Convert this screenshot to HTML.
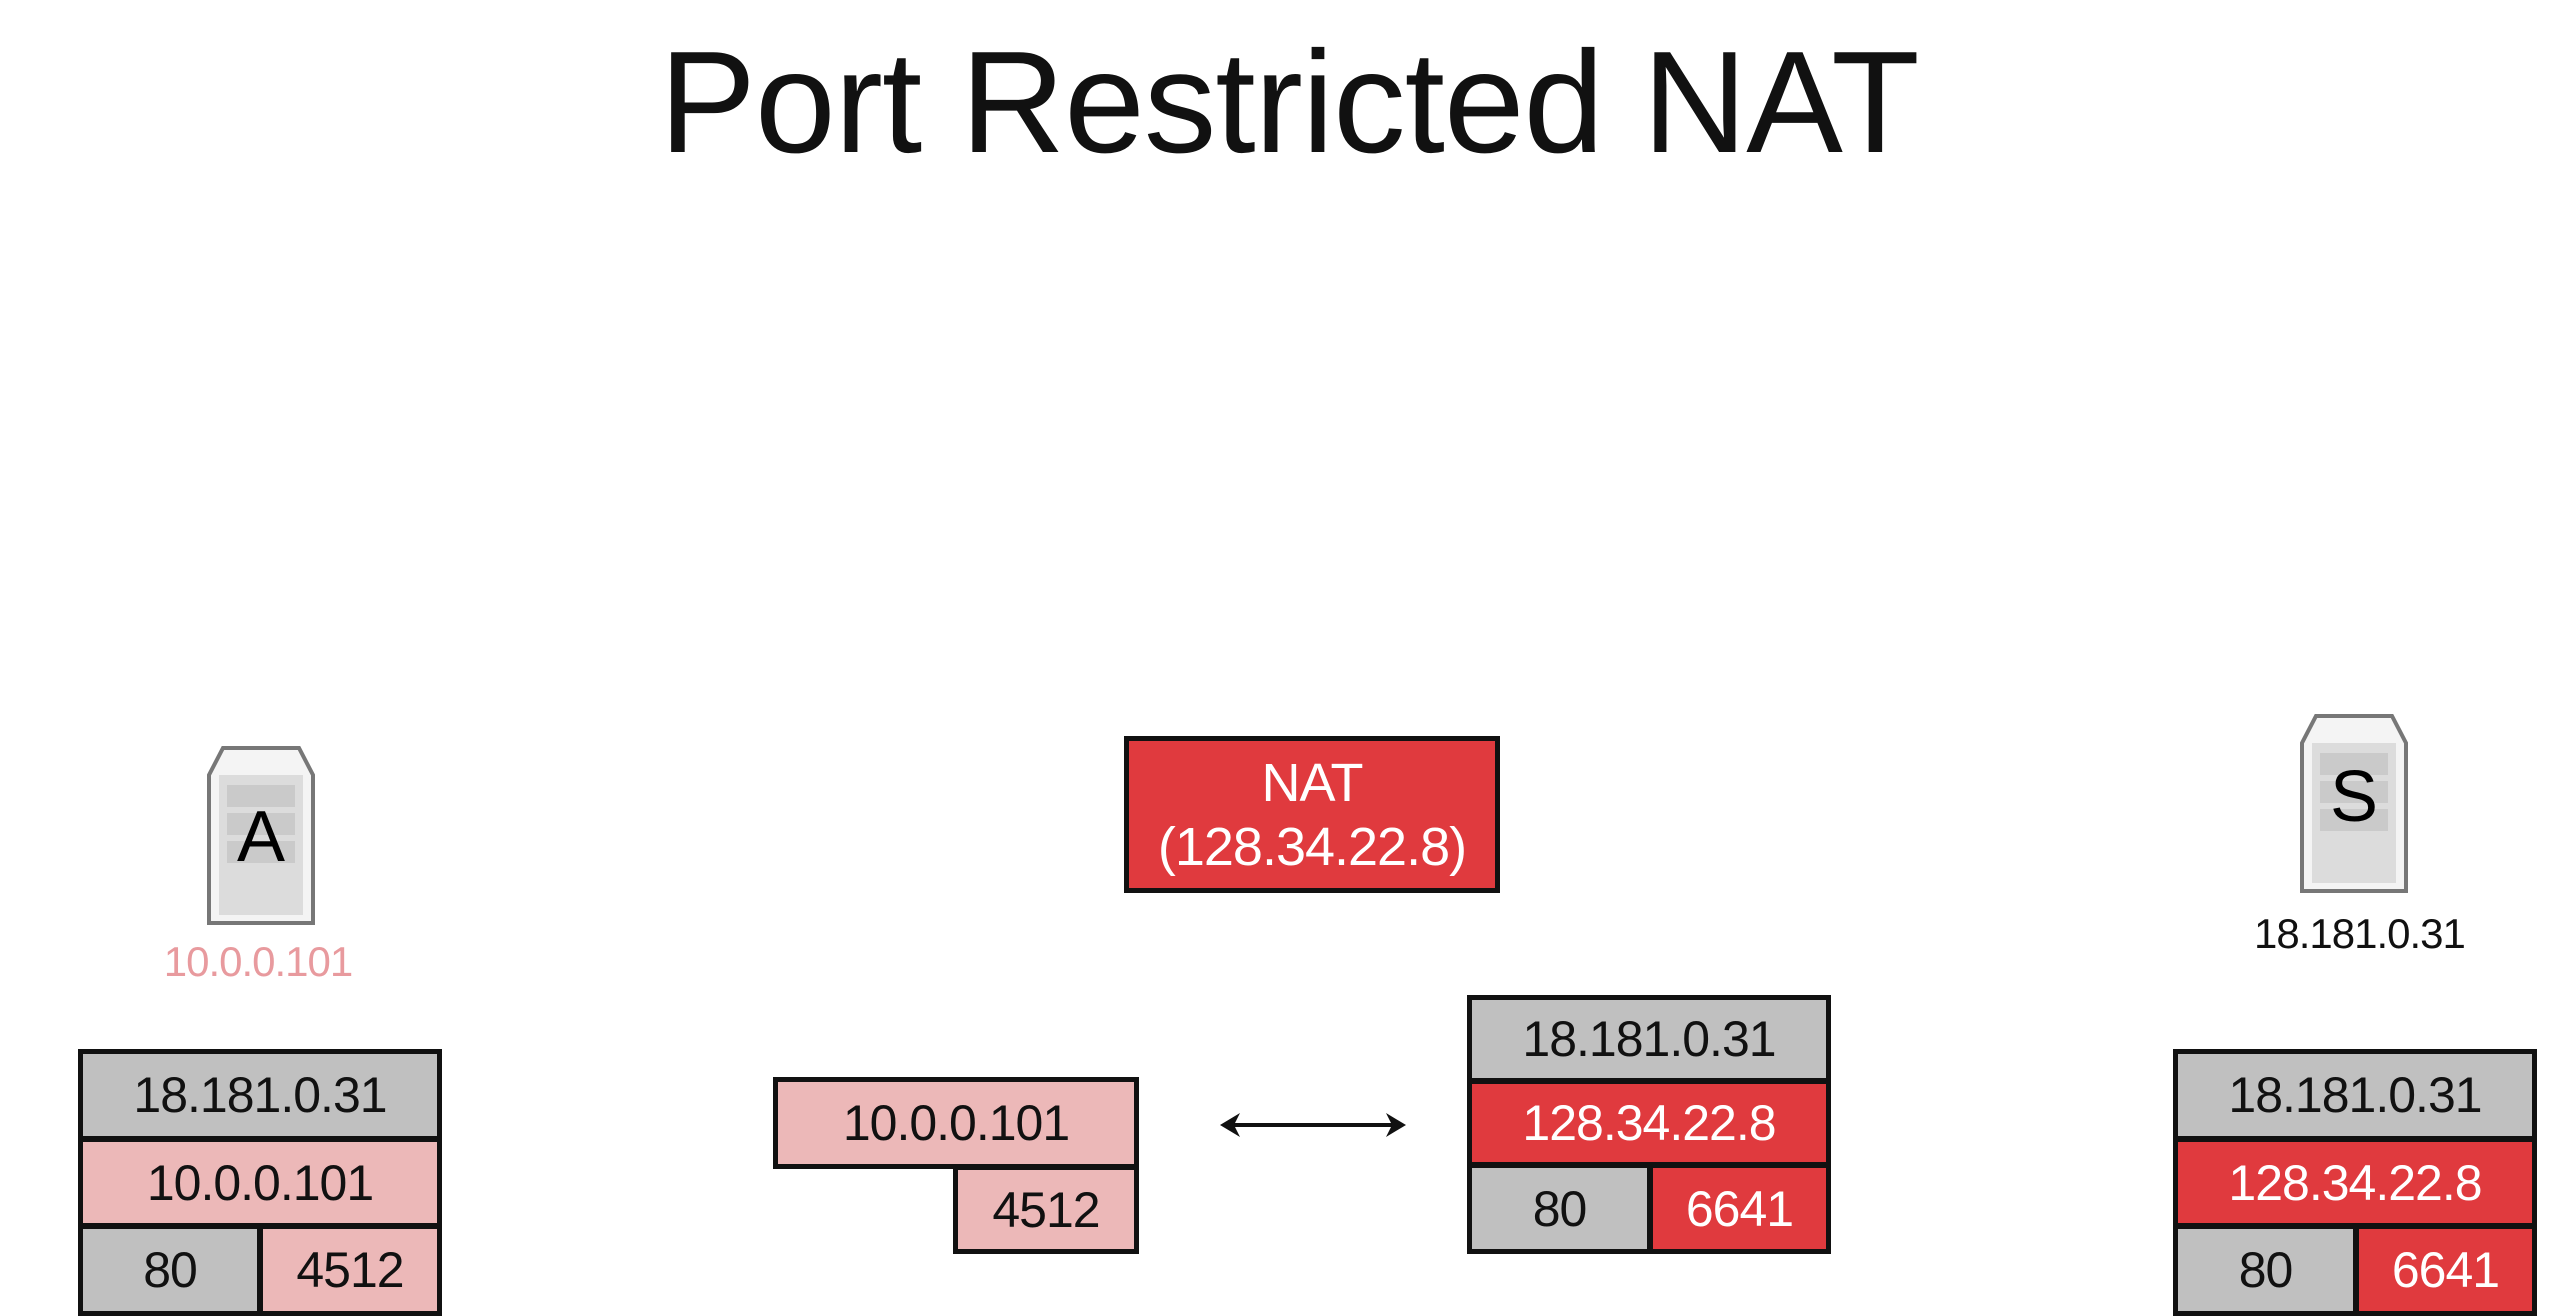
<!DOCTYPE html>
<html><head><meta charset="utf-8"><style>
html,body{margin:0;padding:0;}
body{width:2558px;height:1298px;overflow:hidden;background:#fff;position:relative;font-family:"Liberation Sans",sans-serif;}
.a{position:absolute;box-sizing:border-box;}
.c{position:absolute;box-sizing:border-box;border:5px solid #111;display:flex;align-items:center;justify-content:center;text-align:center;font-size:50px;color:#111;letter-spacing:-1px;}
.g{background:#c0c0c0}.p{background:#ecb8b8}.r{background:#e03a3e;color:#fff}
.t{position:absolute;text-align:center;}
</style></head><body>
<div class="t" style="left:10px;width:2558px;top:22px;font-size:145px;line-height:160px;color:#111;letter-spacing:-1px;">Port Restricted NAT</div>

<!-- server A -->
<svg class="a" style="left:205px;top:745px" width="112" height="182" viewBox="0 0 112 182">
<polygon points="18,3 94,3 108,30 108,178 4,178 4,30" fill="#f4f4f4" stroke="#777" stroke-width="4"/>
<rect x="14" y="30" width="84" height="140" fill="#dcdcdc"/>
<rect x="22" y="40" width="68" height="22" fill="#cacaca"/><rect x="22" y="68" width="68" height="22" fill="#cacaca"/><rect x="22" y="96" width="68" height="22" fill="#cacaca"/>
<text x="56" y="116" font-family="Liberation Sans" font-size="72" text-anchor="middle" fill="#000">A</text>
</svg>
<div class="t" style="left:158px;width:200px;top:938px;font-size:42px;color:#e89a9e;letter-spacing:-1px">10.0.0.101</div>

<!-- NAT -->
<div class="c r" style="left:1124px;top:736px;width:376px;height:157px;font-size:54px;line-height:64px;">NAT<br>(128.34.22.8)</div>

<!-- server S -->
<svg class="a" style="left:2298px;top:713px" width="112" height="182" viewBox="0 0 112 182">
<polygon points="18,3 94,3 108,30 108,178 4,178 4,30" fill="#f4f4f4" stroke="#777" stroke-width="4"/>
<rect x="14" y="30" width="84" height="140" fill="#dcdcdc"/>
<rect x="22" y="40" width="68" height="22" fill="#cacaca"/><rect x="22" y="68" width="68" height="22" fill="#cacaca"/><rect x="22" y="96" width="68" height="22" fill="#cacaca"/>
<text x="56" y="108" font-family="Liberation Sans" font-size="72" text-anchor="middle" fill="#000">S</text>
</svg>
<div class="t" style="left:2254px;width:200px;top:910px;font-size:42px;color:#111;letter-spacing:-1px">18.181.0.31</div>

<!-- left stack -->
<div class="c g" style="left:78px;top:1049px;width:364px;height:92px">18.181.0.31</div>
<div class="c p" style="left:78px;top:1137px;width:364px;height:91px">10.0.0.101</div>
<div class="c g" style="left:78px;top:1224px;width:184px;height:92px">80</div>
<div class="c p" style="left:258px;top:1224px;width:184px;height:92px">4512</div>

<!-- middle pink -->
<div class="c p" style="left:773px;top:1077px;width:366px;height:92px">10.0.0.101</div>
<div class="c p" style="left:953px;top:1165px;width:186px;height:89px">4512</div>

<!-- arrow -->
<svg class="a" style="left:1218px;top:1108px" width="190" height="34">
<line x1="12" y1="17" x2="178" y2="17" stroke="#111" stroke-width="4"/>
<path d="M2,17 L22,5 L16,17 L22,29 Z" fill="#111"/>
<path d="M188,17 L168,5 L174,17 L168,29 Z" fill="#111"/>
</svg>

<!-- middle right -->
<div class="c g" style="left:1467px;top:995px;width:364px;height:88px">18.181.0.31</div>
<div class="c r" style="left:1467px;top:1079px;width:364px;height:88px">128.34.22.8</div>
<div class="c g" style="left:1467px;top:1163px;width:185px;height:91px">80</div>
<div class="c r" style="left:1648px;top:1163px;width:183px;height:91px">6641</div>

<!-- right stack -->
<div class="c g" style="left:2173px;top:1049px;width:364px;height:92px">18.181.0.31</div>
<div class="c r" style="left:2173px;top:1137px;width:364px;height:91px">128.34.22.8</div>
<div class="c g" style="left:2173px;top:1224px;width:185px;height:92px">80</div>
<div class="c r" style="left:2354px;top:1224px;width:183px;height:92px">6641</div>
</body></html>
